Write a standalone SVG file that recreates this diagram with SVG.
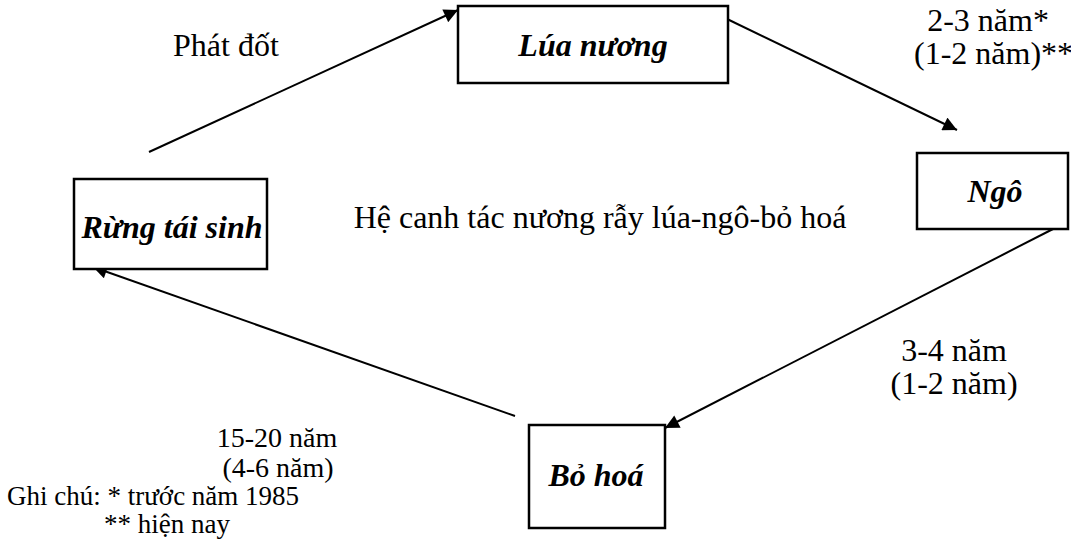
<svg xmlns="http://www.w3.org/2000/svg" width="1071" height="553" viewBox="0 0 1071 553">
  <style>
    .box { fill: #ffffff; stroke: #000000; stroke-width: 2.5; }
    .lbl { font-family: 'Liberation Serif', 'Times New Roman', 'DejaVu Serif', serif; font-size: 32px; font-weight: bold; font-style: italic; fill: #000000; }
    .txt { font-family: 'Liberation Serif', 'Times New Roman', 'DejaVu Serif', serif; font-size: 32px; fill: #000000; }
    .dur { font-family: 'Liberation Serif', 'Times New Roman', 'DejaVu Serif', serif; font-size: 28px; fill: #000000; }
    .note { font-family: 'Liberation Serif', 'Times New Roman', 'DejaVu Serif', serif; font-size: 27px; fill: #000000; }
    .edge { stroke: #000000; stroke-width: 2; fill: none; marker-end: url(#arrow); }
  </style>
  <defs>
    <marker id="arrow" viewBox="0 0 10 10" refX="10" refY="5" markerWidth="15" markerHeight="14" markerUnits="userSpaceOnUse" orient="auto">
      <path d="M0,0 L10,5 L0,10 z" fill="#000000"/>
    </marker>
  </defs>
  <rect width="1071" height="553" fill="#ffffff"/>

  <!-- connectors -->
  <g id="connectors">
    <path class="edge" d="M149,152 L458,10"/>
    <path class="edge" d="M725,18 L957,130"/>
    <path class="edge" d="M1053,229 L665,428"/>
    <path class="edge" d="M515,416 L93,267"/>
  </g>

  <!-- nodes -->
  <g id="lua-nuong">
    <rect class="box" x="458" y="6" width="270" height="77"/>
    <text class="lbl" x="593" y="56" text-anchor="middle">Lúa nương</text>
  </g>
  <g id="ngo">
    <rect class="box" x="917" y="153" width="151" height="76"/>
    <text class="lbl" x="995" y="202" text-anchor="middle">Ngô</text>
  </g>
  <g id="bo-hoa">
    <rect class="box" x="529" y="425" width="136" height="103"/>
    <text class="lbl" x="596" y="486" text-anchor="middle">Bỏ hoá</text>
  </g>
  <g id="rung-tai-sinh">
    <rect class="box" x="74" y="179" width="193" height="90"/>
    <text class="lbl" x="172" y="238" text-anchor="middle">Rừng tái sinh</text>
  </g>

  <!-- labels -->
  <g id="labels">
    <text class="txt" x="173" y="56">Phát đốt</text>
    <text class="txt" x="988" y="31" text-anchor="middle">2-3 năm*</text>
    <text class="txt" x="914" y="64">(1-2 năm)**</text>
    <text class="txt" x="600" y="228" text-anchor="middle">Hệ canh tác nương rẫy lúa-ngô-bỏ hoá</text>
    <text class="txt" x="954" y="361" text-anchor="middle">3-4 năm</text>
    <text class="txt" x="954" y="394" text-anchor="middle">(1-2 năm)</text>
    <text class="dur" x="277" y="447" text-anchor="middle">15-20 năm</text>
    <text class="dur" x="278" y="477" text-anchor="middle">(4-6 năm)</text>
    <text class="note" x="7" y="505">Ghi chú: * trước năm 1985</text>
    <text class="note" x="104" y="533">** hiện nay</text>
  </g>
</svg>
